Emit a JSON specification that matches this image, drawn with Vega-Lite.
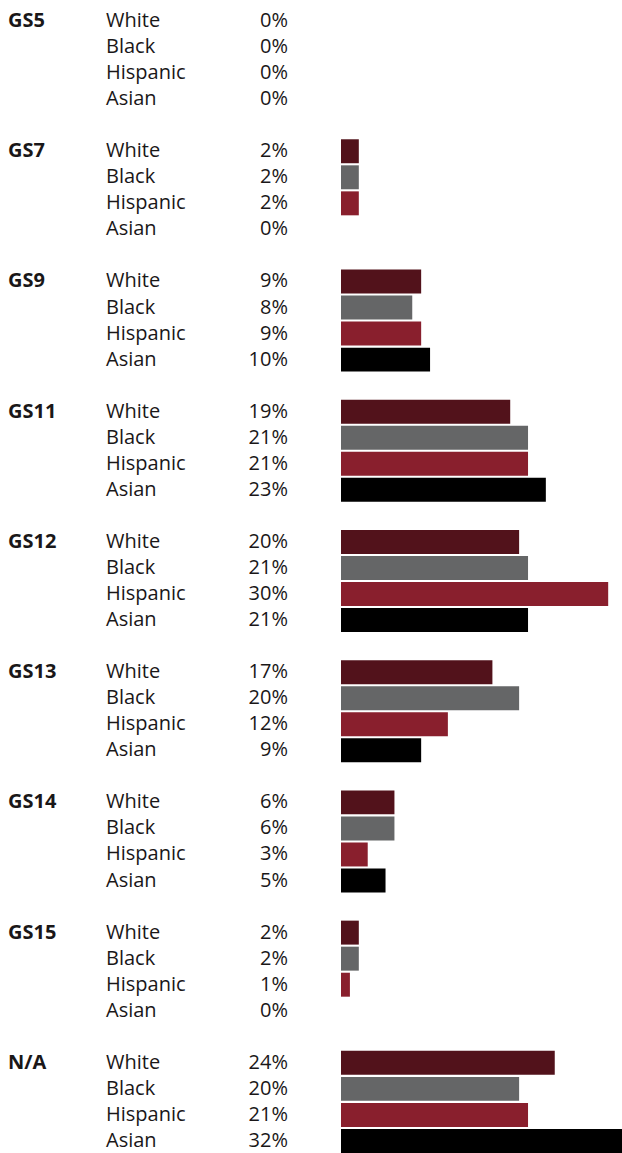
{
  "$schema": "https://vega.github.io/schema/vega-lite/v6.json",
  "padding": {"left": 8, "top": 8, "right": 0, "bottom": 0},
  "bounds": "flush",
  "background": "white",
  "config": {"view": {"stroke": null}, "text": {"font": "Open Sans", "fontSize": 20, "color": "#1a1718"}},
  "spacing": 0,
  "data": {"values": [
    {"key": "GS5 White", "grade": "GS5", "race": "White", "pct": 0},
    {"key": "GS5 Black", "grade": "GS5", "race": "Black", "pct": 0},
    {"key": "GS5 Hispanic", "grade": "GS5", "race": "Hispanic", "pct": 0},
    {"key": "GS5 Asian", "grade": "GS5", "race": "Asian", "pct": 0},
    {"key": "GS7 White", "grade": "GS7", "race": "White", "pct": 0.02},
    {"key": "GS7 Black", "grade": "GS7", "race": "Black", "pct": 0.02},
    {"key": "GS7 Hispanic", "grade": "GS7", "race": "Hispanic", "pct": 0.02},
    {"key": "GS7 Asian", "grade": "GS7", "race": "Asian", "pct": 0},
    {"key": "GS9 White", "grade": "GS9", "race": "White", "pct": 0.09},
    {"key": "GS9 Black", "grade": "GS9", "race": "Black", "pct": 0.08},
    {"key": "GS9 Hispanic", "grade": "GS9", "race": "Hispanic", "pct": 0.09},
    {"key": "GS9 Asian", "grade": "GS9", "race": "Asian", "pct": 0.10},
    {"key": "GS11 White", "grade": "GS11", "race": "White", "pct": 0.19},
    {"key": "GS11 Black", "grade": "GS11", "race": "Black", "pct": 0.21},
    {"key": "GS11 Hispanic", "grade": "GS11", "race": "Hispanic", "pct": 0.21},
    {"key": "GS11 Asian", "grade": "GS11", "race": "Asian", "pct": 0.23},
    {"key": "GS12 White", "grade": "GS12", "race": "White", "pct": 0.20},
    {"key": "GS12 Black", "grade": "GS12", "race": "Black", "pct": 0.21},
    {"key": "GS12 Hispanic", "grade": "GS12", "race": "Hispanic", "pct": 0.30},
    {"key": "GS12 Asian", "grade": "GS12", "race": "Asian", "pct": 0.21},
    {"key": "GS13 White", "grade": "GS13", "race": "White", "pct": 0.17},
    {"key": "GS13 Black", "grade": "GS13", "race": "Black", "pct": 0.20},
    {"key": "GS13 Hispanic", "grade": "GS13", "race": "Hispanic", "pct": 0.12},
    {"key": "GS13 Asian", "grade": "GS13", "race": "Asian", "pct": 0.09},
    {"key": "GS14 White", "grade": "GS14", "race": "White", "pct": 0.06},
    {"key": "GS14 Black", "grade": "GS14", "race": "Black", "pct": 0.06},
    {"key": "GS14 Hispanic", "grade": "GS14", "race": "Hispanic", "pct": 0.03},
    {"key": "GS14 Asian", "grade": "GS14", "race": "Asian", "pct": 0.05},
    {"key": "GS15 White", "grade": "GS15", "race": "White", "pct": 0.02},
    {"key": "GS15 Black", "grade": "GS15", "race": "Black", "pct": 0.02},
    {"key": "GS15 Hispanic", "grade": "GS15", "race": "Hispanic", "pct": 0.01},
    {"key": "GS15 Asian", "grade": "GS15", "race": "Asian", "pct": 0},
    {"key": "N/A White", "grade": "N/A", "race": "White", "pct": 0.24},
    {"key": "N/A Black", "grade": "N/A", "race": "Black", "pct": 0.20},
    {"key": "N/A Hispanic", "grade": "N/A", "race": "Hispanic", "pct": 0.21},
    {"key": "N/A Asian", "grade": "N/A", "race": "Asian", "pct": 0.32}
  ]},
  "hconcat": [
    {
      "width": 98, "height": 1146,
      "transform": [{"filter": "datum.race == 'White'"}],
      "mark": {"type": "text", "align": "left", "baseline": "middle", "fontWeight": "bold"},
      "encoding": {
        "x": {"datum": 0, "type": "quantitative", "scale": {"domain": [0, 1]}, "axis": null},
        "y": {"field": "key", "type": "ordinal", "axis": null, "scale": {"paddingInner": 0.08, "paddingOuter": 0.04, "domain": ["GS5 White","GS5 Black","GS5 Hispanic","GS5 Asian","g1","GS7 White","GS7 Black","GS7 Hispanic","GS7 Asian","g2","GS9 White","GS9 Black","GS9 Hispanic","GS9 Asian","g3","GS11 White","GS11 Black","GS11 Hispanic","GS11 Asian","g4","GS12 White","GS12 Black","GS12 Hispanic","GS12 Asian","g5","GS13 White","GS13 Black","GS13 Hispanic","GS13 Asian","g6","GS14 White","GS14 Black","GS14 Hispanic","GS14 Asian","g7","GS15 White","GS15 Black","GS15 Hispanic","GS15 Asian","g8","N/A White","N/A Black","N/A Hispanic","N/A Asian"]}},
        "text": {"field": "grade"}
      }
    },
    {
      "width": 182, "height": 1146,
      "mark": {"type": "text", "align": "left", "baseline": "middle"},
      "encoding": {
        "x": {"datum": 0, "type": "quantitative", "scale": {"domain": [0, 1]}, "axis": null},
        "y": {"field": "key", "type": "ordinal", "axis": null, "scale": {"paddingInner": 0.08, "paddingOuter": 0.04, "domain": ["GS5 White","GS5 Black","GS5 Hispanic","GS5 Asian","g1","GS7 White","GS7 Black","GS7 Hispanic","GS7 Asian","g2","GS9 White","GS9 Black","GS9 Hispanic","GS9 Asian","g3","GS11 White","GS11 Black","GS11 Hispanic","GS11 Asian","g4","GS12 White","GS12 Black","GS12 Hispanic","GS12 Asian","g5","GS13 White","GS13 Black","GS13 Hispanic","GS13 Asian","g6","GS14 White","GS14 Black","GS14 Hispanic","GS14 Asian","g7","GS15 White","GS15 Black","GS15 Hispanic","GS15 Asian","g8","N/A White","N/A Black","N/A Hispanic","N/A Asian"]}},
        "text": {"field": "race"}
      }
    },
    {
      "width": 53, "height": 1146,
      "mark": {"type": "text", "align": "right", "baseline": "middle"},
      "encoding": {
        "x": {"datum": 0, "type": "quantitative", "scale": {"domain": [0, 1]}, "axis": null},
        "y": {"field": "key", "type": "ordinal", "axis": null, "scale": {"paddingInner": 0.08, "paddingOuter": 0.04, "domain": ["GS5 White","GS5 Black","GS5 Hispanic","GS5 Asian","g1","GS7 White","GS7 Black","GS7 Hispanic","GS7 Asian","g2","GS9 White","GS9 Black","GS9 Hispanic","GS9 Asian","g3","GS11 White","GS11 Black","GS11 Hispanic","GS11 Asian","g4","GS12 White","GS12 Black","GS12 Hispanic","GS12 Asian","g5","GS13 White","GS13 Black","GS13 Hispanic","GS13 Asian","g6","GS14 White","GS14 Black","GS14 Hispanic","GS14 Asian","g7","GS15 White","GS15 Black","GS15 Hispanic","GS15 Asian","g8","N/A White","N/A Black","N/A Hispanic","N/A Asian"]}},
        "text": {"field": "pct", "type": "quantitative", "format": ".0%"}
      }
    },
    {
      "width": 285, "height": 1146,
      "mark": {"type": "bar"},
      "encoding": {
        "x": {"field": "pct", "type": "quantitative", "scale": {"domain": [0, 0.32]}, "axis": null},
        "y": {"field": "key", "type": "ordinal", "axis": null, "scale": {"paddingInner": 0.08, "paddingOuter": 0.04, "domain": ["GS5 White","GS5 Black","GS5 Hispanic","GS5 Asian","g1","GS7 White","GS7 Black","GS7 Hispanic","GS7 Asian","g2","GS9 White","GS9 Black","GS9 Hispanic","GS9 Asian","g3","GS11 White","GS11 Black","GS11 Hispanic","GS11 Asian","g4","GS12 White","GS12 Black","GS12 Hispanic","GS12 Asian","g5","GS13 White","GS13 Black","GS13 Hispanic","GS13 Asian","g6","GS14 White","GS14 Black","GS14 Hispanic","GS14 Asian","g7","GS15 White","GS15 Black","GS15 Hispanic","GS15 Asian","g8","N/A White","N/A Black","N/A Hispanic","N/A Asian"]}},
        "color": {"field": "race", "type": "nominal", "legend": null, "scale": {"domain": ["White", "Black", "Hispanic", "Asian"], "range": ["#52121b", "#656667", "#891f2d", "#000000"]}}
      }
    }
  ]
}
